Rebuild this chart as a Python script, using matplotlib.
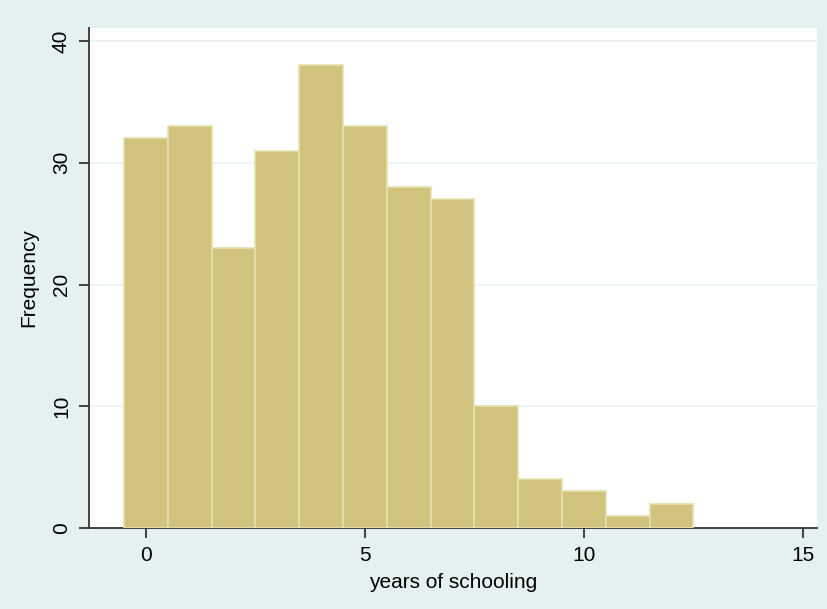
import numpy as np, matplotlib; matplotlib.use("Agg")
import matplotlib.pyplot as plt

plt.rcParams.update({"font.family": ["Liberation Sans", "DejaVu Sans"], "font.size": 15})

# histogram bins (years of schooling) and counts
years = [0, 1, 2, 3, 4, 5, 6, 7, 8, 9, 10, 11, 12]
freq = [32, 33, 23, 31, 38, 33, 28, 27, 10, 4, 3, 1, 2]

bg = "#e5f0f0"
fig = plt.figure(figsize=(8.28, 6.09), dpi=100, facecolor=bg)
ax = fig.add_axes([89/828, 1-528/609, (817-89)/828, 500/609])
ax.set_facecolor("white")
ax.bar(years, freq, width=1.0, color="#cfc37e", edgecolor="#e6dfae", linewidth=1.2, zorder=3)
ax.set_xlim(-1.30, 15.32)
ax.set_ylim(0, 41.07)
ax.set_xticks([0, 5, 10, 15])
ax.set_yticks([0, 10, 20, 30, 40])
ax.set_yticklabels(["0", "10", "20", "30", "40"], rotation=90, va="center")
ax.grid(axis="y", color="#eaf2f3", lw=1.2, zorder=0)
for s in ["top", "right"]:
    ax.spines[s].set_visible(False)
for s in ["left", "bottom"]:
    ax.spines[s].set_color("#333333"); ax.spines[s].set_linewidth(1.3)
ax.tick_params(length=7, width=1.3, color="#333333", labelsize=15, pad=6)
ax.set_xlabel("years of schooling", labelpad=6)
ax.set_ylabel("Frequency", labelpad=10)
fig.savefig("out.png", dpi=100, facecolor=bg)
